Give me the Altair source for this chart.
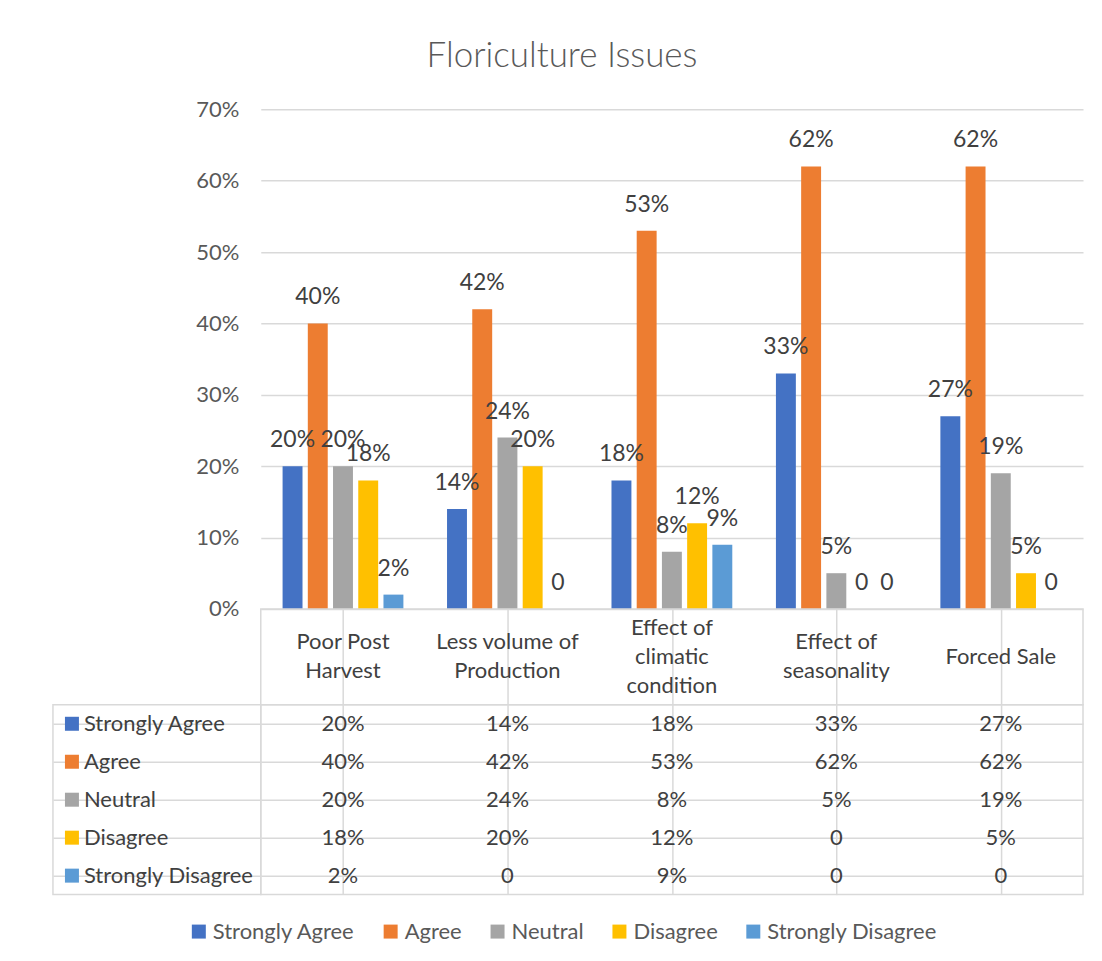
import altair as alt
import pandas as pd

# ---- data -------------------------------------------------------------
categories = ["Poor Post Harvest", "Less volume of Production",
              "Effect of climatic condition", "Effect of seasonality", "Forced Sale"]
header_text = ["Poor Post\nHarvest", "Less volume of\nProduction",
               "Effect of\nclimatic\ncondition", "Effect of\nseasonality", "Forced Sale"]
series = ["Strongly Agree", "Agree", "Neutral", "Disagree", "Strongly Disagree"]

strongly_agree = [20, 14, 18, 33, 27]
agree = [40, 42, 53, 62, 62]
neutral = [20, 24, 8, 5, 19]
disagree = [18, 20, 12, 0, 5]
strongly_disagree = [2, 0, 9, 0, 0]

y_ticks = [0, 10, 20, 30, 40, 50, 60, 70]
colors = ["#4472C4", "#ED7D31", "#A5A5A5", "#FFC000", "#5B9BD5"]

values_by_series = [strongly_agree, agree, neutral, disagree, strongly_disagree]

rows = []
for s, vals in zip(series, values_by_series):
    for c, v in zip(categories, vals):
        rows.append({"category": c, "series": s, "value": v,
                     "label": "0" if v == 0 else f"{v}%"})
df = pd.DataFrame(rows)

hdr_rows = []
for c, h in zip(categories, header_text):
    lines = h.split("\n")
    n = len(lines)
    for i, line in enumerate(lines):
        hdr_rows.append({"category": c, "line": line, "pos": (n - 1) / 2 - i})
hdr = pd.DataFrame(hdr_rows)
lab = pd.DataFrame({"series": series})

FONT = "Lato"
TXT = "#404040"
GRID = "#D9D9D9"
COLW = 823
LABW = 208
FS = 22

color_enc = alt.Color(
    "series:N", sort=series,
    scale=alt.Scale(domain=series, range=colors),
    legend=alt.Legend(orient="none", legendX=135, legendY=812,
                      direction="horizontal", title=None,
                      symbolType="square", symbolSize=196, symbolStrokeWidth=0,
                      labelFontSize=FS, labelFont=FONT, labelColor="#595959",
                      labelLimit=400, columnPadding=24, labelOffset=3),
)

x_cat = alt.X("category:N", sort=categories, axis=None,
              scale=alt.Scale(paddingInner=0, paddingOuter=0))

# ---- A: empty spacer above the label column ----------------------------
spacer_top = alt.Chart(pd.DataFrame({"t": [""]})).mark_text().encode(
    text="t:N").properties(width=LABW, height=500)

# ---- B: bar chart ----------------------------------------------------------
base = alt.Chart(df).encode(
    x=x_cat,
    xOffset=alt.XOffset("series:N", sort=series,
                        scale=alt.Scale(paddingInner=0.21, paddingOuter=0.865)),
    y=alt.Y("value:Q", scale=alt.Scale(domain=[0, 70], nice=False),
            axis=alt.Axis(values=y_ticks, labelExpr="datum.value + '%'",
                          title=None, domain=False, ticks=False,
                          labelPadding=22, labelFontSize=FS, labelFont=FONT,
                          labelColor="#595959", grid=True, gridColor=GRID,
                          gridWidth=1.5)),
)
bars = base.mark_bar().encode(color=color_enc)
labels = base.mark_text(dy=-26, baseline="middle", fontSize=23, font=FONT,
                        color=TXT).encode(text="label:N")
bar_chart = (bars + labels).properties(width=COLW, height=500)

# ---- C1: empty cell beside header ------------------------------------------
spacer_mid = alt.Chart(pd.DataFrame({"t": [""]})).mark_text().encode(
    text="t:N").properties(width=LABW, height=96)

# ---- D1: header row ----------------------------------------------------------
header = alt.Chart(hdr).mark_text(fontSize=FS, font=FONT, color=TXT,
                                  baseline="middle").encode(
    x=alt.X("category:N", sort=categories,
            scale=alt.Scale(paddingInner=0, paddingOuter=0),
            axis=alt.Axis(labels=False, ticks=False, domain=False, title=None,
                          grid=True, gridColor=GRID, gridWidth=1.5,
                          bandPosition=0)),
    y=alt.Y("pos:Q", axis=None, scale=alt.Scale(domain=[-1.655, 1.655], nice=False)),
    text="line:N",
).properties(width=COLW, height=96,
             view=alt.ViewBackground(stroke=GRID, strokeWidth=1.5))

# ---- C2: row labels ---------------------------------------------------------
y_rows = alt.Y("series:N", sort=series,
               scale=alt.Scale(paddingInner=0, paddingOuter=0),
               axis=alt.Axis(labels=False, ticks=False, domain=False, title=None,
                             grid=True, gridColor=GRID, gridWidth=1.5,
                             bandPosition=0))
x_lab = alt.XDatum(0, type="quantitative", axis=None,
                   scale=alt.Scale(domain=[0, 1], nice=False))
lab_base = alt.Chart(lab).encode(x=x_lab, y=y_rows)
squares = lab_base.mark_square(size=196, opacity=1, xOffset=19).encode(color=color_enc)
lab_text = lab_base.mark_text(align="left", dx=31, fontSize=FS, font=FONT,
                              color=TXT).encode(text="series:N")
label_col = (squares + lab_text).properties(
    width=LABW, height=190,
    view=alt.ViewBackground(stroke=GRID, strokeWidth=1.5))

# ---- D2: table body ------------------------------------------------------
body = alt.Chart(df).mark_text(fontSize=FS, font=FONT, color=TXT).encode(
    x=alt.X("category:N", sort=categories,
            scale=alt.Scale(paddingInner=0, paddingOuter=0),
            axis=alt.Axis(labels=False, ticks=False, domain=False, title=None,
                          grid=True, gridColor=GRID, gridWidth=1.5,
                          bandPosition=0)),
    y=y_rows,
    text="label:N",
).properties(width=COLW, height=190,
             view=alt.ViewBackground(stroke=GRID, strokeWidth=1.5))

chart = alt.concat(
    spacer_top, bar_chart, spacer_mid, header, label_col, body,
    columns=2, spacing=0, bounds="flush", align="each",
    title=alt.TitleParams("Floriculture Issues", fontSize=35, font=FONT,
                          fontWeight=300, color="#595959", anchor="middle",
                          offset=24, dx=-6),
).resolve_scale(
    x="independent", y="independent"
).properties(
    padding={"left": 44, "top": 30, "right": 10, "bottom": 10}
).configure_view(stroke="transparent")

chart.save("out.html", embed_options={"renderer": "svg", "actions": False})
